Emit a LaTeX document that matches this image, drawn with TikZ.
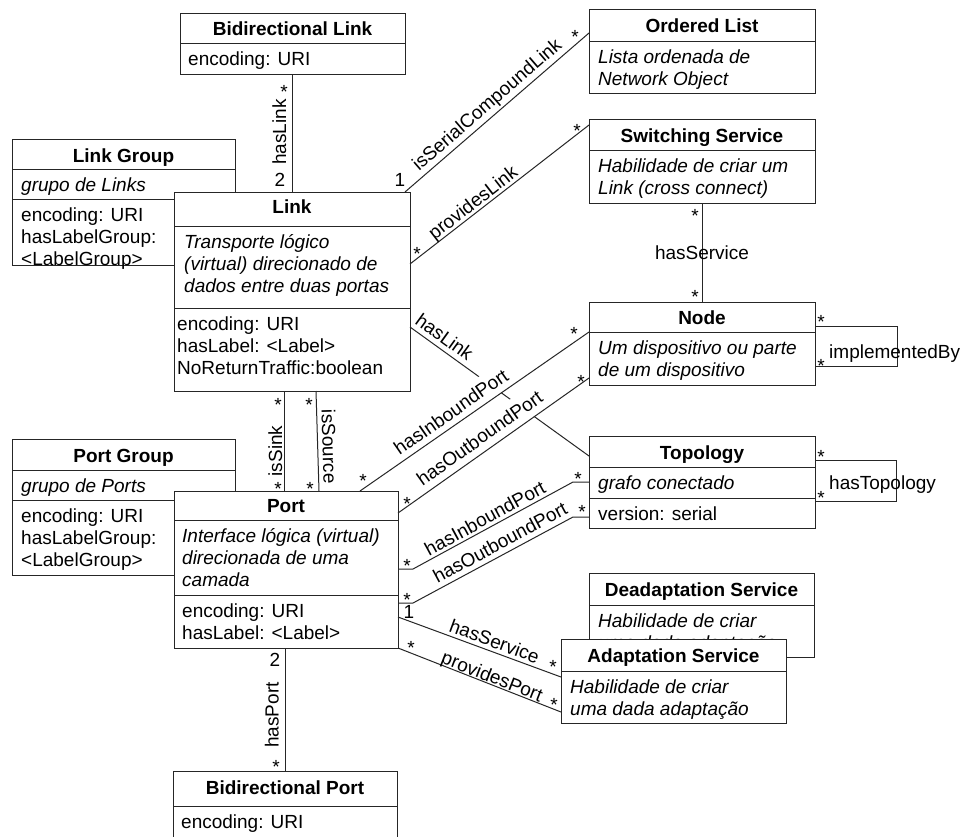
\documentclass[tikz,border=0pt]{standalone}
\usepackage{fontspec}
\setmainfont{Liberation Sans}
\usetikzlibrary{calc}

% horizontal compartment divider inside a class box, #2 = offset below the top edge
\newcommand\umldiv[2]{\draw[wire] ([shift={(0,#2)}]#1.north west) -- ([shift={(0,#2)}]#1.north east);}

\begin{document}
\begin{tikzpicture}[x=1pt,y=-1pt,
  every node/.style={font=\fontsize{19}{21.7}\selectfont},
  wire/.style={draw=black!85, line width=1pt},
  cls/.style={draw=black!85, line width=1pt, fill=white, anchor=north west, inner sep=0pt, outer sep=0pt},
  ttl/.style={font=\fontsize{19}{21.7}\selectfont\bfseries, anchor=base, inner sep=0pt},
  desc/.style={font=\fontsize{19}{21.7}\selectfont\itshape, align=left, anchor=north west, inner sep=0pt},
  attr/.style={align=left, anchor=north west, inner sep=0pt},
  lbl/.style={sloped, anchor=south, text height=13.6pt, text depth=0pt},
  mult/.style={inner sep=0pt, text height=13.6pt, text depth=0pt},
]
\useasboundingbox (0,0) rectangle (966,836);
\fill[white] (0,0) rectangle (966,836);
\clip (0,0) rectangle (966,836);

% ---------- Link Group / Link ----------
\node[cls, minimum width=223pt, minimum height=126pt] (linkgroup) at (12,139) {};
\umldiv{linkgroup}{30}
\umldiv{linkgroup}{60}
\node[ttl] (linkgroup-title) at ([shift={(0,23)}]linkgroup.north) {Link Group};
\node[desc] (linkgroup-desc) at ([shift={(9,37.3)}]linkgroup.north west) {\strut grupo de Links};
\node[attr] (linkgroup-attr) at ([shift={(9,67.3)}]linkgroup.north west) {\strut encoding: URI\\hasLabelGroup:\\<LabelGroup>};

\node[cls, minimum width=236pt, minimum height=199pt] (link) at (174,192) {};
\umldiv{link}{34}
\umldiv{link}{116}
\node[ttl] (link-title) at ([shift={(0,21.5)}]link.north) {Link};
\node[desc] (link-desc) at ([shift={(10,41.3)}]link.north west) {\strut Transporte lógico\\(virtual) direcionado de\\dados entre duas portas};
\node[attr] (link-attr) at ([shift={(3,123.3)}]link.north west) {\strut encoding: URI\\hasLabel: <Label>\\NoReturnTraffic:boolean};

% ---------- Port Group / Port ----------
\node[cls, minimum width=223pt, minimum height=136pt] (portgroup) at (12,439) {};
\umldiv{portgroup}{31}
\umldiv{portgroup}{61}
\node[ttl] (portgroup-title) at ([shift={(0,23)}]portgroup.north) {Port Group};
\node[desc] (portgroup-desc) at ([shift={(9,38.3)}]portgroup.north west) {\strut grupo de Ports};
\node[attr] (portgroup-attr) at ([shift={(9,68.3)}]portgroup.north west) {\strut encoding: URI\\hasLabelGroup:\\<LabelGroup>};

\node[cls, minimum width=224pt, minimum height=157pt] (port) at (174,491) {};
\umldiv{port}{29}
\umldiv{port}{104}
\node[ttl] (port-title) at ([shift={(0,21.5)}]port.north) {Port};
\node[desc] (port-desc) at ([shift={(8,36.3)}]port.north west) {\strut Interface lógica (virtual)\\direcionada de uma\\camada};
\node[attr] (port-attr) at ([shift={(8,111.3)}]port.north west) {\strut encoding: URI\\hasLabel: <Label>};

% ---------- Bidirectional Link ----------
\node[cls, minimum width=225pt, minimum height=61pt] (bdlink) at (180,13) {};
\umldiv{bdlink}{30}
\node[ttl] (bdlink-title) at ([shift={(0,22)}]bdlink.north) {Bidirectional Link};
\node[attr] (bdlink-attr) at ([shift={(8,37.3)}]bdlink.north west) {\strut encoding: URI};

% ---------- Ordered List ----------
\node[cls, minimum width=226pt, minimum height=84pt] (olist) at (589,9) {};
\umldiv{olist}{32}
\node[ttl] (olist-title) at ([shift={(0,23)}]olist.north) {Ordered List};
\node[desc] (olist-desc) at ([shift={(9,39.3)}]olist.north west) {\strut Lista ordenada de\\Network Object};

% ---------- Switching Service ----------
\node[cls, minimum width=226pt, minimum height=84pt] (switching) at (589,119) {};
\umldiv{switching}{31}
\node[ttl] (switching-title) at ([shift={(0,23)}]switching.north) {Switching Service};
\node[desc] (switching-desc) at ([shift={(9,38.3)}]switching.north west) {\strut Habilidade de criar um\\Link (cross connect)};

% ---------- Node ----------
\node[cls, minimum width=226pt, minimum height=83pt] (node) at (589,302) {};
\umldiv{node}{30}
\node[ttl] (node-title) at ([shift={(0,22.5)}]node.north) {Node};
\node[desc] (node-desc) at ([shift={(9,37.3)}]node.north west) {\strut Um dispositivo ou parte\\de um dispositivo};

% ---------- Topology ----------
\node[cls, minimum width=226pt, minimum height=92pt] (topology) at (589,436) {};
\umldiv{topology}{31}
\umldiv{topology}{62}
\node[ttl] (topology-title) at ([shift={(0,23.5)}]topology.north) {Topology};
\node[desc] (topology-desc) at ([shift={(9,38.3)}]topology.north west) {\strut grafo conectado};
\node[attr] (topology-attr) at ([shift={(9,69.3)}]topology.north west) {\strut version: serial};

% ---------- Deadaptation / Adaptation Service ----------
\node[cls, minimum width=225pt, minimum height=84pt] (deadapt) at (589,573) {};
\umldiv{deadapt}{32}
\node[ttl] (deadapt-title) at ([shift={(0,23.5)}]deadapt.north) {Deadaptation Service};
\node[desc] (deadapt-desc) at ([shift={(9,39.3)}]deadapt.north west) {\strut Habilidade de criar\\uma dada adaptação};

\node[cls, minimum width=225pt, minimum height=84pt] (adapt) at (561,639) {};
\umldiv{adapt}{32}
\node[ttl] (adapt-title) at ([shift={(0,23)}]adapt.north) {Adaptation Service};
\node[desc] (adapt-desc) at ([shift={(9,39.3)}]adapt.north west) {\strut Habilidade de criar\\uma dada adaptação};

% ---------- Bidirectional Port ----------
\node[cls, minimum width=224pt, minimum height=90pt] (bdport) at (173,771) {};
\umldiv{bdport}{35}
\node[ttl] (bdport-title) at ([shift={(0,23)}]bdport.north) {Bidirectional Port};
\node[attr] (bdport-attr) at ([shift={(8,42.3)}]bdport.north west) {\strut encoding: URI};

% ---------- associations ----------
\draw[wire] (link.north -| bdlink.south) -- (bdlink.south)
  node[lbl, pos=0.508, inner sep=6pt] (lbl-haslink1) {hasLink};
\node[mult] (m-haslink1-a) at ([shift={(-8.5,18)}]bdlink.south) {*};
\node[mult] (m-haslink1-b) at ([shift={(-12,-12)}]link.north) {2};

\draw[wire] ([shift={(-5,0)}]link.north east) -- ([shift={(0,24)}]olist.north west)
  node[lbl, pos=0.49, inner sep=6pt] (lbl-serial) {isSerialCompoundLink};
\node[mult] (m-serial-a) at ([shift={(-10,-12)}]link.north east) {1};
\node[mult] (m-serial-b) at ([shift={(-14,28)}]olist.north west) {*};

\draw[wire] ([shift={(0,72)}]link.north east) -- ([shift={(0,6)}]switching.north west)
  node[lbl, pos=0.385, inner sep=3pt] (lbl-provlink) {providesLink};
\node[mult] (m-provlink-a) at ([shift={(7,62)}]link.north east) {*};
\node[mult] (m-provlink-b) at ([shift={(-12,12)}]switching.north west) {*};

\draw[wire] (switching.south) -- (node.north)
  node[pos=0.5, inner sep=0pt] (lbl-hasservice1) {hasService};
\node[mult] (m-hasservice1-a) at ([shift={(-7,13)}]switching.south) {*};
\node[mult] (m-hasservice1-b) at ([shift={(-7,-5)}]node.north) {*};

\draw[wire] ([shift={(0,135)}]link.north east) -- ([shift={(0,20)}]topology.north west)
  node[lbl, pos=0.153, inner sep=5pt] (lbl-haslink2) {hasLink};

\draw[wire] ([shift={(186,0)}]port.north west) -- ([shift={(0,30)}]node.north west)
  node[lbl, fill=white, behind path, pos=0.43, inner sep=6pt] (lbl-inport1) {hasInboundPort};
\node[mult] (m-inport1-a) at ([shift={(189,-10)}]port.north west) {*};
\node[mult] (m-inport1-b) at ([shift={(-15,32)}]node.north west) {*};

\draw[wire] ([shift={(0,22)}]port.north east) -- ([shift={(0,76)}]node.north west)
  node[lbl, fill=white, behind path, pos=0.47, inner sep=7pt] (lbl-outport1) {hasOutboundPort};
\node[mult] (m-outport1-a) at ([shift={(9,13)}]port.north east) {*};
\node[mult] (m-outport1-b) at ([shift={(-8,80)}]node.north west) {*};

\draw[wire] ([shift={(0,78)}]port.north east) -- ++(15,0)
  -- ([shift={(-16,46)}]topology.north west)
  node[lbl, pos=0.48, inner sep=3pt] (lbl-inport2) {hasInboundPort}
  -- ([shift={(0,46)}]topology.north west);
\node[mult] (m-inport2-a) at ([shift={(9,75)}]port.north east) {*};
\node[mult] (m-inport2-b) at ([shift={(-11,43)}]topology.north west) {*};

\draw[wire] ([shift={(0,112)}]port.north east) -- ++(15,0)
  -- ([shift={(-16,81)}]topology.north west)
  node[lbl, pos=0.58, inner sep=5pt] (lbl-outport2) {hasOutboundPort}
  -- ([shift={(0,81)}]topology.north west);
\node[mult] (m-outport2-a) at ([shift={(9,109)}]port.north east) {*};
\node[mult] (m-outport2-b) at ([shift={(-7,76)}]topology.north west) {*};

\draw[wire] ([shift={(0,126)}]port.north east) -- ([shift={(0,38)}]adapt.north west)
  node[lbl, pos=0.57, inner sep=3.5pt] (lbl-hasservice2) {hasService};
\node[mult] (m-hasservice2-a) at ([shift={(11,121)}]port.north east) {1};
\node[mult] (m-hasservice2-b) at ([shift={(-8,28)}]adapt.north west) {*};

\draw[wire] (port.south east) -- ([shift={(0,73)}]adapt.north west)
  node[lbl, pos=0.56, inner sep=1pt] (lbl-provport) {providesPort};
\node[mult] (m-provport-a) at ([shift={(13,0)}]port.south east) {*};
\node[mult] (m-provport-b) at ([shift={(-7,66)}]adapt.north west) {*};

\draw[wire] ([shift={(110,0)}]port.north west) -- ([shift={(110,0)}]link.south west)
  node[lbl, pos=0.4, inner sep=1.5pt] (lbl-issink) {isSink};
\node[mult] (m-issink-a) at ([shift={(104,14)}]link.south west) {*};
\node[mult] (m-issink-b) at ([shift={(104,-2)}]port.north west) {*};

\draw[wire] ([shift={(145,0)}]port.north west) -- ([shift={(142,0)}]link.south west)
  node[lbl, pos=0.44, inner sep=4.5pt] (lbl-issource) {isSource};
\node[mult] (m-issource-a) at ([shift={(135,14)}]link.south west) {*};
\node[mult] (m-issource-b) at ([shift={(136,-2)}]port.north west) {*};

\draw[wire] (bdport.north) -- (bdport.north |- port.south)
  node[lbl, pos=0.455, inner sep=6pt] (lbl-hasport) {hasPort};
\node[mult] (m-hasport-a) at ([shift={(-11,12)}]port.south) {2};
\node[mult] (m-hasport-b) at ([shift={(-9,-4)}]bdport.north) {*};

% self associations
\draw[wire] ([shift={(0,24)}]node.north east) -- ++(82,0) -- ++(0,40) -- ([shift={(0,64)}]node.north east);
\node[anchor=base west, inner sep=0pt] (lbl-impl) at ([shift={(14,56)}]node.north east) {implementedBy};
\node[mult] (m-impl-a) at ([shift={(6,20)}]node.north east) {*};
\node[mult] (m-impl-b) at ([shift={(6,64)}]node.north east) {*};

\draw[wire] ([shift={(0,24)}]topology.north east) -- ++(81,0) -- ++(0,41) -- ([shift={(0,65)}]topology.north east);
\node[anchor=base west, inner sep=0pt] (lbl-topo) at ([shift={(14,53)}]topology.north east) {hasTopology};
\node[mult] (m-topo-a) at ([shift={(6,21)}]topology.north east) {*};
\node[mult] (m-topo-b) at ([shift={(6,62)}]topology.north east) {*};
\end{tikzpicture}
\end{document}
